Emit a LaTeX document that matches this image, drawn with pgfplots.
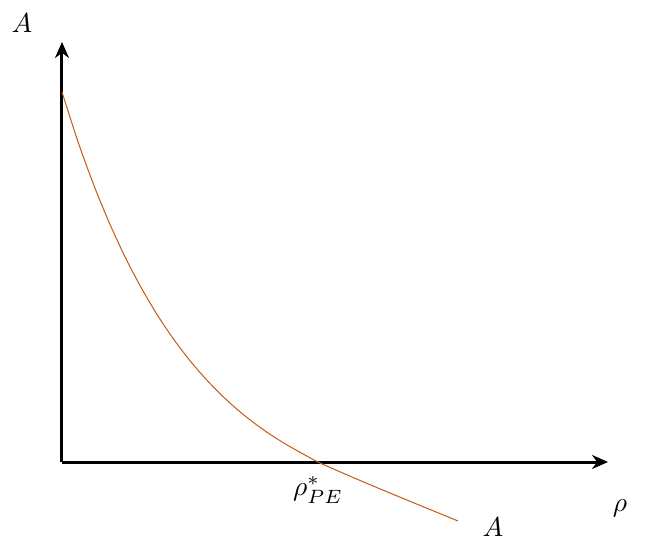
\documentclass[border=0pt]{standalone}
\usepackage{graphicx}
\usepackage{pgfplots}
\pgfplotsset{compat=1.18}
\usetikzlibrary{arrows.meta}
\definecolor{curveorange}{RGB}{197,90,17}
\newcommand{\lbl}[1]{\scalebox{2.75}{#1}}

\begin{document}
\begin{tikzpicture}
  \begin{axis}[
    x=1pt, y=1pt,
    scale only axis,
    axis lines=left,
    xmin=0, xmax=546, ymin=0, ymax=420,
    xtick=\empty, ytick=\empty,
    clip=false,
    axis line style={line width=3pt, -{Stealth[length=16pt, width=14pt]}},
  ]
    % curve (pixel units, origin at the axes' corner)
    \addplot[curveorange, line width=1pt, smooth] coordinates {
      (0,370) (16,320.3) (32,276.4) (48,237.6) (64,203.2) (80,172.9)
      (96,146.0) (112,122.3) (128,101.3) (144,82.8) (160,66.4) (176,51.9)
      (192,39.1) (208,27.7) (224,17.7) (240,8.6) (256,0) (272,-7.2)
      (296,-17.6) (326,-30.2) (356,-42.6) (396,-59)
    };
    \node at (axis cs:-40,439) {\lbl{$A$}};
    \node at (axis cs:558,-46) {\lbl{$\rho$}};
    \node at (axis cs:256,-28) {\lbl{$\rho^{*}_{PE}$}};
    \node at (axis cs:431,-65) {\lbl{$A$}};
    % page extent, as in the reference
    \path[use as bounding box] (axis cs:-62,-79) rectangle (axis cs:586,462);
  \end{axis}
\end{tikzpicture}
\end{document}
